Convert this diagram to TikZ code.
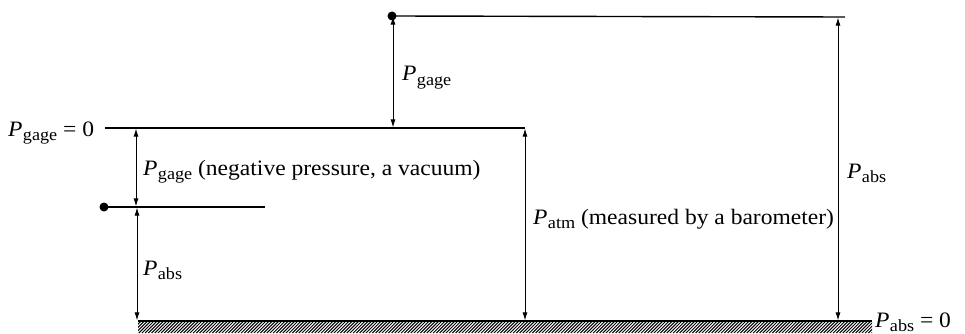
\documentclass[tikz,border=0pt]{standalone}
\usepackage{fontspec}
\setmainfont{Liberation Serif}
\usetikzlibrary{arrows.meta}
\newcommand\Pv[1]{\textit{P}\kern0.3pt\raisebox{-0.4ex}{\fontsize{17}{17}\selectfont #1}}
\tikzset{
  level/.style={line width=1.4pt},
  dim/.style={line width=0.9pt,{Latex[length=8pt,width=5pt]}-{Latex[length=8pt,width=5pt]}},
  lbl/.style={anchor=base west,inner sep=0pt,font=\fontsize{22}{22}\selectfont,xscale=1.07},
  dotst/.style={circle,fill=black,inner sep=0pt,minimum size=9pt}
}
\begin{document}
\begin{tikzpicture}[x=1pt,y=-1pt]
\useasboundingbox (0,0) rectangle (965,334);
% levels
\node[dotst] (d1) at (392,16) {};
\coordinate (t2) at (845,17);
\coordinate (g1) at (105,128);
\coordinate (g2) at (525,128);
\node[dotst] (d2) at (104,207) {};
\coordinate (v2) at (265,207);
\coordinate (b1) at (138,321);
\coordinate (b2) at (872,321);
\draw[level] (d1.center) -- (t2);
\draw[level] (g1) -- (g2);
\draw[level] (d2.center) -- (v2);
% ground hatch
\begin{scope}
\clip (138,321) rectangle (872,333);
\foreach \i in {0,3.2,...,760} {
  \draw[line width=1pt] (138+\i-12,333) -- (138+\i,321);
}
\end{scope}
\draw[level] (b1) -- (b2);
% dimension arrows
\coordinate (a1t) at (393,16.6);
\coordinate (a1b) at (393,127.4);
\coordinate (a2t) at (136,128.6);
\coordinate (a2b) at (136,206.4);
\coordinate (a3t) at (137,207.6);
\coordinate (a3b) at (137,320.4);
\coordinate (a4t) at (525,128.6);
\coordinate (a4b) at (525,320.4);
\coordinate (a5t) at (838,17.6);
\coordinate (a5b) at (838,320.4);
\draw[dim] (a1t) -- (a1b);
\draw[dim] (a2t) -- (a2b);
\draw[dim] (a3t) -- (a3b);
\draw[dim] (a4t) -- (a4b);
\draw[dim] (a5t) -- (a5b);
% labels
\node[lbl] (l0) at (8,136) {\Pv{gage} = 0};
\node[lbl] (l1) at (402,81) {\Pv{gage}};
\node[lbl] (l2) at (143,175) {\Pv{gage} (negative pressure, a vacuum)};
\node[lbl] (l3) at (143,275) {\Pv{abs}};
\node[lbl] (l4) at (533,224) {\Pv{atm} (measured by a barometer)};
\node[lbl] (l5) at (847,178) {\Pv{abs}};
\node[lbl] (l6) at (875,327) {\Pv{abs} = 0};
\end{tikzpicture}
\end{document}
